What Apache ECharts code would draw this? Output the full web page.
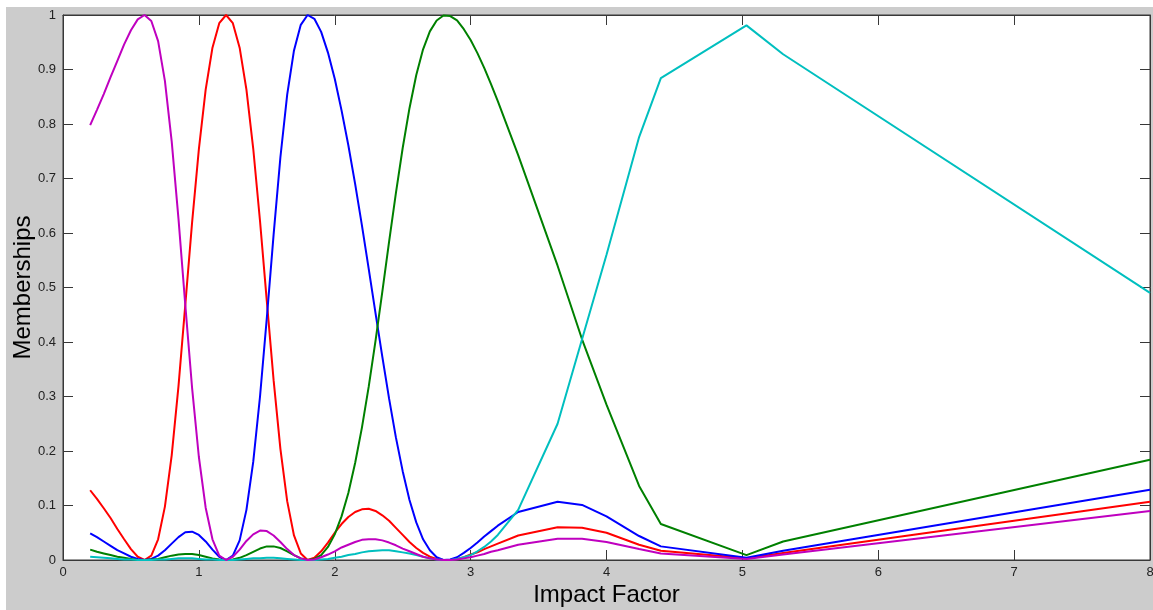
<!DOCTYPE html>
<html>
<head>
<meta charset="utf-8">
<script src="https://cdn.jsdelivr.net/npm/echarts@6/dist/echarts.min.js"></script>
<style>
html,body{margin:0;padding:0;background:#ffffff;}
#chart{width:1153px;height:610px;}
</style>
</head>
<body>
<div id="chart"></div>
<script>
// ---- Data ----
const impactFactor = [
  0.20,0.25,0.30,0.35,0.40,0.45,0.50,0.55,0.60,0.65,
  0.70,0.75,0.80,0.85,0.90,0.95,1.00,1.05,1.10,1.15,
  1.20,1.25,1.30,1.35,1.40,1.45,1.50,1.55,1.60,1.65,
  1.70,1.75,1.80,1.85,1.90,1.95,2.00,2.05,2.10,2.15,
  2.20,2.25,2.30,2.35,2.40,2.45,2.50,2.55,2.60,2.65,
  2.70,2.75,2.80,2.85,2.90,2.95,3.00,3.05,3.10,3.15,
  3.20,
  3.35,3.64,3.82,4.00,4.24,4.40,5.03,5.30,8.00
];

const magentaMembership = [
  .798,.826,.855,.886,.916,.946,.972,.992,1,.989,
  .952,.879,.768,.626,.468,.316,.189,.096,.038,.008,
  0,.006,.019,.035,.047,.054,.053,.045,.033,.020,
  .009,.003,0,.001,.005,.010,.016,.023,.028,.033,
  .037,.038,.038,.036,.032,.027,.021,.016,.011,.006,
  .003,.001,0,0,.001,.003,.005,.008,.011,.015,
  .018,
  .028,.039,.039,.033,.020,.012,.002,.010,.090
];

const redMembership = [
  .128,.112,.095,.077,.057,.038,.020,.006,0,.008,
  .038,.098,.192,.319,.468,.619,.754,.863,.940,.985,
  1,.985,.940,.863,.755,.622,.475,.330,.204,.108,
  .045,.012,0,.004,.016,.032,.050,.066,.079,.088,
  .093,.094,.090,.082,.072,.059,.046,.033,.022,.013,
  .006,.002,0,0,.002,.005,.010,.014,.020,.025,
  .030,
  .045,.060,.059,.050,.028,.017,.003,.013,.107
];

const blueMembership = [
  .049,.042,.034,.026,.018,.012,.006,.002,0,.002,
  .008,.018,.030,.042,.051,.052,.046,.034,.019,.006,
  0,.008,.036,.092,.180,.300,.444,.597,.739,.854,
  .935,.982,1,.993,.969,.931,.883,.825,.761,.690,
  .614,.534,.453,.373,.296,.225,.163,.110,.069,.038,
  .018,.005,0,.001,.005,.013,.022,.032,.043,.053,
  .063,
  .088,.107,.101,.080,.044,.025,.004,.017,.129
];

const greenMembership = [
  .019,.015,.012,.009,.006,.004,.002,0,0,.001,
  .002,.005,.008,.010,.011,.011,.009,.006,.003,.001,
  0,.001,.004,.009,.015,.021,.025,.025,.022,.016,
  .009,.003,0,.002,.009,.024,.047,.080,.123,.178,
  .243,.318,.402,.492,.584,.673,.756,.829,.890,.937,
  .970,.990,.999,.998,.990,.974,.954,.930,.903,.873,
  .842,
  .743,.540,.405,.285,.136,.066,.009,.034,.184
];

const cyanMembership = [
  .006,.005,.004,.003,.002,.001,.001,0,0,0,
  .001,.001,.002,.003,.003,.003,.002,.001,.001,0,
  0,0,.001,.002,.003,.003,.004,.004,.003,.002,
  .001,0,0,0,.001,.002,.004,.006,.009,.011,
  .014,.016,.017,.018,.018,.016,.014,.012,.009,.006,
  .003,.001,0,0,.002,.005,.009,.016,.024,.034,
  .046,
  .092,.250,.405,.560,.776,.884,.981,.928,.490
];

const xAxisTitle = 'Impact Factor';
const yAxisTitle = 'Memberships';

// ---- Chart ----
const font = '"Liberation Sans", Arial, Helvetica, sans-serif';
const axisColor = '#383838';
const labelColor = '#222222';

const seriesDefs = [
  { name: 'Cluster 2', values: redMembership,     color: '#ff0000' },
  { name: 'Cluster 3', values: blueMembership,    color: '#0000ff' },
  { name: 'Cluster 4', values: greenMembership,   color: '#008000' },
  { name: 'Cluster 5', values: cyanMembership,    color: '#00bfbf' },
  { name: 'Cluster 1', values: magentaMembership, color: '#bf00bf' }
];

const chart = echarts.init(document.getElementById('chart'), null, { renderer: 'canvas' });

const tickStyle = { show: true, inside: true, length: 10, lineStyle: { color: axisColor, width: 1 } };
const lineStyleAxis = { show: true, onZero: false, lineStyle: { color: axisColor, width: 1 } };

chart.setOption({
  animation: false,
  backgroundColor: '#cccccc',
  graphic: [
    { type: 'rect', silent: true, shape: { x: 0, y: 0, width: 1153, height: 7 }, style: { fill: '#ffffff' } },
    { type: 'rect', silent: true, shape: { x: 0, y: 0, width: 6, height: 610 }, style: { fill: '#ffffff' } }
  ],
  grid: {
    left: 63, right: 3, top: 15, bottom: 50,
    containLabel: false, outerBoundsMode: 'none',
    show: true, backgroundColor: '#ffffff', borderColor: axisColor, borderWidth: 1
  },
  xAxis: [
    {
      type: 'value', min: 0, max: 8, interval: 1, position: 'bottom',
      name: xAxisTitle, nameLocation: 'middle', nameGap: 23, nameMoveOverlap: false,
      nameTextStyle: { fontFamily: font, fontSize: 24, color: '#000000' },
      axisLine: lineStyleAxis, axisTick: tickStyle,
      axisLabel: { fontFamily: font, fontSize: 13, color: labelColor, margin: 6 },
      splitLine: { show: false }
    },
    {
      type: 'value', min: 0, max: 8, interval: 1, position: 'top',
      axisLine: lineStyleAxis, axisTick: tickStyle,
      axisLabel: { show: false }, splitLine: { show: false }
    }
  ],
  yAxis: [
    {
      type: 'value', min: 0, max: 1, interval: 0.1, position: 'left',
      name: yAxisTitle, nameLocation: 'middle', nameGap: 28, nameMoveOverlap: false,
      nameTextStyle: { fontFamily: font, fontSize: 24, color: '#000000' },
      axisLine: lineStyleAxis, axisTick: tickStyle,
      axisLabel: { fontFamily: font, fontSize: 13, color: labelColor, margin: 7 },
      splitLine: { show: false }
    },
    {
      type: 'value', min: 0, max: 1, interval: 0.1, position: 'right',
      axisLine: lineStyleAxis, axisTick: tickStyle,
      axisLabel: { show: false }, splitLine: { show: false }
    }
  ],
  series: seriesDefs.map(s => ({
    type: 'line',
    name: s.name,
    xAxisIndex: 0,
    yAxisIndex: 0,
    data: impactFactor.map((x, i) => [x, s.values[i]]),
    symbol: 'none',
    showSymbol: false,
    smooth: false,
    lineStyle: { color: s.color, width: 2 },
    itemStyle: { color: s.color },
    emphasis: { disabled: true }
  }))
});
</script>
</body>
</html>
